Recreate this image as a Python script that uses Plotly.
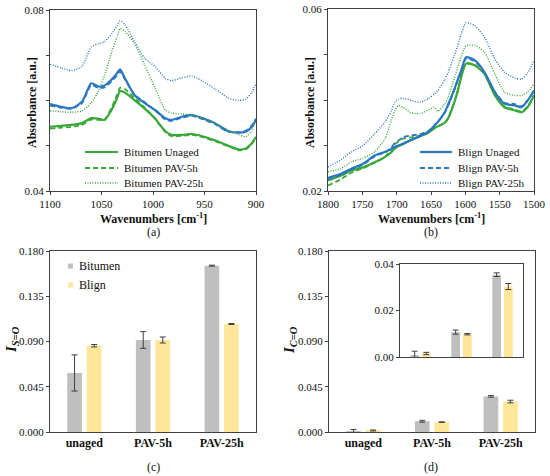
import plotly.graph_objects as go

# ---- panel (a): 1100-900 cm-1 ----
wn_a = [1100, 1089, 1079, 1069, 1060, 1053, 1047, 1040, 1035, 1032, 1027, 1018, 1008,
        998, 988, 982, 972, 962, 952, 940, 927, 917, 910, 904, 900]
a_bit_unaged = [0.0542, 0.0544, 0.0546, 0.0550, 0.0561, 0.0560, 0.0557, 0.0580, 0.0605, 0.0621,
                0.0617, 0.0601, 0.0582, 0.0560, 0.0532, 0.0524, 0.0524, 0.0526, 0.0521, 0.0512,
                0.0500, 0.0492, 0.0494, 0.0506, 0.0520]
a_bit_pav5 = [0.0538, 0.0540, 0.0542, 0.0546, 0.0558, 0.0557, 0.0558, 0.0585, 0.0612, 0.0628,
              0.0625, 0.0606, 0.0584, 0.0560, 0.0530, 0.0521, 0.0522, 0.0524, 0.0519, 0.0510,
              0.0499, 0.0490, 0.0492, 0.0504, 0.0518]
a_bit_pav25 = [0.0577, 0.0575, 0.0574, 0.0577, 0.0595, 0.0620, 0.0656, 0.0708, 0.0740, 0.0759,
               0.0752, 0.0726, 0.0678, 0.0627, 0.0579, 0.0572, 0.0570, 0.0568, 0.0561, 0.0550,
               0.0535, 0.0525, 0.0520, 0.0533, 0.0557]
a_bl_unaged = [0.0592, 0.0586, 0.0583, 0.0597, 0.0638, 0.0631, 0.0633, 0.0647, 0.0660, 0.0669,
               0.0648, 0.0612, 0.0594, 0.0579, 0.0561, 0.0557, 0.0564, 0.0568, 0.0561, 0.0550,
               0.0532, 0.0529, 0.0531, 0.0542, 0.0558]
a_bl_pav5 = [0.0589, 0.0584, 0.0582, 0.0594, 0.0634, 0.0628, 0.0629, 0.0643, 0.0655, 0.0664,
             0.0646, 0.0613, 0.0596, 0.0578, 0.0558, 0.0555, 0.0562, 0.0566, 0.0559, 0.0548,
             0.0531, 0.0530, 0.0533, 0.0545, 0.0560]
a_bl_pav25 = [0.0680, 0.0672, 0.0666, 0.0675, 0.0718, 0.0725, 0.0730, 0.0748, 0.0765, 0.0776,
              0.0767, 0.0730, 0.0693, 0.0675, 0.0649, 0.0644, 0.0650, 0.0654, 0.0643, 0.0626,
              0.0606, 0.0600, 0.0603, 0.0618, 0.0638]

# ---- panel (b): 1800-1500 cm-1 ----
wn_b = [1800, 1781, 1766, 1749, 1732, 1717, 1708, 1703, 1698, 1691, 1679, 1666, 1654, 1645,
        1640, 1630, 1625, 1616, 1611, 1606, 1599, 1586, 1572, 1557, 1543, 1528, 1518, 1509, 1500]
b_bit_unaged = [0.0223, 0.0234, 0.0245, 0.0252, 0.0263, 0.0275, 0.0285, 0.0293, 0.0298, 0.0303,
                0.0312, 0.0320, 0.0328, 0.0338, 0.0342, 0.0350, 0.0360, 0.0395, 0.0420, 0.0450,
                0.0480, 0.0476, 0.0457, 0.0410, 0.0384, 0.0377, 0.0373, 0.0385, 0.0410]
b_bit_pav5 = [0.0212, 0.0226, 0.0240, 0.0250, 0.0262, 0.0275, 0.0292, 0.0303, 0.0308, 0.0315,
              0.0318, 0.0322, 0.0328, 0.0338, 0.0342, 0.0350, 0.0361, 0.0396, 0.0421, 0.0451,
              0.0481, 0.0477, 0.0458, 0.0412, 0.0386, 0.0379, 0.0375, 0.0387, 0.0411]
b_bit_pav25 = [0.0242, 0.0249, 0.0264, 0.0272, 0.0286, 0.0315, 0.0355, 0.0375, 0.0388, 0.0384,
               0.0372, 0.0370, 0.0378, 0.0384, 0.0375, 0.0392, 0.0406, 0.0448, 0.0472, 0.0495,
               0.0519, 0.0520, 0.0505, 0.0457, 0.0417, 0.0410, 0.0410, 0.0418, 0.0435]
b_bl_unaged = [0.0229, 0.0238, 0.0249, 0.0260, 0.0278, 0.0286, 0.0292, 0.0297, 0.0300, 0.0304,
               0.0312, 0.0321, 0.0330, 0.0344, 0.0352, 0.0373, 0.0390, 0.0424, 0.0445, 0.0465,
               0.0494, 0.0487, 0.0461, 0.0417, 0.0392, 0.0388, 0.0384, 0.0399, 0.0421]
b_bl_pav5 = [0.0226, 0.0236, 0.0247, 0.0258, 0.0276, 0.0285, 0.0295, 0.0305, 0.0310, 0.0318,
             0.0322, 0.0325, 0.0332, 0.0344, 0.0351, 0.0372, 0.0388, 0.0422, 0.0443, 0.0463,
             0.0491, 0.0485, 0.0460, 0.0418, 0.0394, 0.0391, 0.0386, 0.0400, 0.0420]
b_bl_pav25 = [0.0253, 0.0269, 0.0286, 0.0300, 0.0326, 0.0352, 0.0375, 0.0395, 0.0402, 0.0404,
              0.0399, 0.0395, 0.0403, 0.0413, 0.0421, 0.0445, 0.0461, 0.0498, 0.0520, 0.0545,
              0.0570, 0.0563, 0.0538, 0.0490, 0.0461, 0.0448, 0.0446, 0.0460, 0.0487]

# ---- panels (c), (d): indices ----
ageing = ["unaged", "PAV-5h", "PAV-25h"]
iso_bitumen = [0.0587, 0.0915, 0.1654]
iso_bitumen_err = [0.0180, 0.0083, 0.0005]
iso_blign = [0.0858, 0.0915, 0.1074]
iso_blign_err = [0.0012, 0.0030, 0.0005]
ico_bitumen = [0.0005, 0.0107, 0.0354]
ico_bitumen_err = [0.0020, 0.0009, 0.0008]
ico_blign = [0.0015, 0.0098, 0.0303]
ico_blign_err = [0.0005, 0.0003, 0.0013]

GREEN = "#38A836"
BLUE = "#2A77C0"
GRAY = "#BFBFBF"
YELLOW = "#FFE699"
AX = "#404040"
TXT = "#111111"
FONT = "Liberation Serif, Times New Roman, serif"
W, H = 550, 476

fig = go.Figure()

styles = [("solid", 2.2), ("5px,3px", 1.8), ("1px,1.5px", 1.4)]
names = ["Unaged", "PAV-5h", "PAV-25h"]


def add_lines(wn, series, color, prefix, xa, ya):
    for s, (dash, w), nm in zip(series, styles, names):
        fig.add_trace(go.Scatter(
            x=wn, y=s, mode="lines", line=dict(color=color, width=w, dash=dash, shape="spline", smoothing=0.6),
            name=f"{prefix} {nm}", xaxis=xa, yaxis=ya, showlegend=False,
        ))


add_lines(wn_a, [a_bl_unaged, a_bl_pav5, a_bl_pav25], BLUE, "Blign", "x", "y")
add_lines(wn_a, [a_bit_unaged, a_bit_pav5, a_bit_pav25], GREEN, "Bitumen", "x", "y")
add_lines(wn_b, [b_bit_unaged, b_bit_pav5, b_bit_pav25], GREEN, "Bitumen", "x2", "y2")
add_lines(wn_b, [b_bl_unaged, b_bl_pav5, b_bl_pav25], BLUE, "Blign", "x2", "y2")


def add_bars(vals, errs, color, name, xa, ya):
    fig.add_trace(go.Bar(
        x=ageing, y=vals, name=name, marker=dict(color=color, line=dict(width=0)),
        error_y=dict(type="data", array=errs, color=AX, thickness=1, width=3),
        xaxis=xa, yaxis=ya, showlegend=False,
    ))


add_bars(iso_bitumen, iso_bitumen_err, GRAY, "Bitumen", "x3", "y3")
add_bars(iso_blign, iso_blign_err, YELLOW, "Blign", "x3", "y3")
add_bars(ico_bitumen, ico_bitumen_err, GRAY, "Bitumen", "x4", "y4")
add_bars(ico_blign, ico_blign_err, YELLOW, "Blign", "x4", "y4")
add_bars(ico_bitumen, ico_bitumen_err, GRAY, "Bitumen", "x5", "y5")
add_bars(ico_blign, ico_blign_err, YELLOW, "Blign", "x5", "y5")


def px(x0, x1):
    return [x0 / W, x1 / W]


def py(top, bot):
    return [1 - bot / H, 1 - top / H]


ax_common = dict(showline=True, linecolor=AX, linewidth=1, mirror=True, ticks="outside",
                 ticklen=3, tickcolor=AX, showgrid=False, zeroline=False, automargin=False,
                 tickfont=dict(family=FONT, size=11, color=TXT))
cat_ax = {**ax_common, "ticks": "", "tickfont": dict(family=FONT, size=12, color=TXT, weight="bold")}

fig.update_layout(
    template="none",
    xaxis=dict(domain=px(50, 256), anchor="y", range=[1100, 900], tickvals=[1100, 1050, 1000, 950, 900], **ax_common),
    yaxis=dict(domain=py(10, 191), anchor="x", range=[0.04, 0.08],
               tickvals=[0.04, 0.05, 0.06, 0.07, 0.08], ticktext=["0.04", "", "", "", "0.08"], **ax_common),
    xaxis2=dict(domain=px(328, 534), anchor="y2", range=[1800, 1500],
                tickvals=[1800, 1750, 1700, 1650, 1600, 1550, 1500], **ax_common),
    yaxis2=dict(domain=py(9, 191), anchor="x2", range=[0.02, 0.06],
                tickvals=[0.02, 0.03, 0.04, 0.05, 0.06], ticktext=["0.02", "", "", "", "0.06"], **ax_common),
    xaxis3=dict(domain=px(50, 256), anchor="y3", **cat_ax),
    yaxis3=dict(domain=py(251, 432), anchor="x3", range=[0, 0.18], dtick=0.045, tickformat=".3f", **ax_common),
    xaxis4=dict(domain=px(329, 535), anchor="y4", **cat_ax),
    yaxis4=dict(domain=py(251, 432), anchor="x4", range=[0, 0.18], dtick=0.045, tickformat=".3f", **ax_common),
    xaxis5=dict(domain=px(400, 523), anchor="y5", **{**cat_ax, "showticklabels": False}),
    yaxis5=dict(domain=py(264, 357), anchor="x5", range=[0, 0.04], dtick=0.02, tickformat=".2f", **ax_common),
    barmode="group", bargap=0.43, bargroupgap=0.25,
    width=W, height=H, margin=dict(l=0, r=0, t=0, b=0),
    paper_bgcolor="white", plot_bgcolor="white",
    font=dict(family=FONT, size=12, color=TXT),
    showlegend=False,
)


def note(text, x, y, size=12, bold=True, angle=0, xanchor="center"):
    fig.add_annotation(text=f"<b>{text}</b>" if bold else text, x=x / W, y=1 - y / H, xref="paper", yref="paper",
                       showarrow=False, textangle=angle, xanchor=xanchor, yanchor="middle",
                       font=dict(family=FONT, size=size, color=TXT))


note("Wavenumbers [cm<sup>-1</sup>]", 153, 219)
note("Wavenumbers [cm<sup>-1</sup>]", 431, 219)
note("Absorbance [a.u.]", 32, 103, angle=-90)
note("Absorbance [a.u.]", 310, 103, angle=-90)
note("(a)", 153, 232, bold=False)
note("(b)", 431, 232, bold=False)
note("(c)", 153, 467, bold=False)
note("(d)", 431, 467, bold=False)
note("<i>I</i><sub><i>S=O</i></sub>", 12, 340, size=15, angle=-90)
note("<i>I</i><sub><i>C=O</i></sub>", 290, 340, size=15, angle=-90)


# legends drawn as keys beside the curves
def line_key(x0, x1, y, color, dash, w, label):
    fig.add_shape(type="line", xref="paper", yref="paper", x0=x0 / W, x1=x1 / W, y0=1 - y / H, y1=1 - y / H,
                  line=dict(color=color, width=w, dash=dash))
    note(label, x1 + 4, y, size=11, bold=False, xanchor="left")


for (dash, w), nm, yy in zip(styles, names, [152, 168, 183]):
    line_key(85, 118, yy, GREEN, dash, w, f"Bitumen {nm}")
    line_key(420, 452, yy, BLUE, dash, w, f"Blign {nm}")

for color, nm, yy in [(GRAY, "Bitumen", 266), (YELLOW, "Blign", 285)]:
    fig.add_shape(type="rect", xref="paper", yref="paper", x0=68 / W, x1=73 / W,
                  y0=1 - (yy + 2.5) / H, y1=1 - (yy - 2.5) / H, fillcolor=color, line=dict(width=0))
    note(nm, 77, yy, size=12, bold=False, xanchor="left")

fig.write_html("out.html", config={"displayModeBar": False},
               post_script="document.body.style.margin = '0';")
